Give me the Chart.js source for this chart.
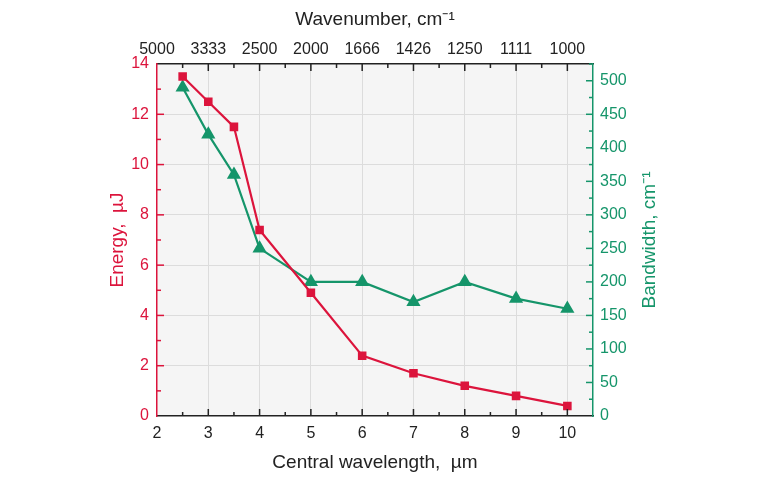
<!DOCTYPE html>
<html>
<head>
<meta charset="utf-8">
<script src="https://cdn.jsdelivr.net/npm/chart.js@4"></script>
<style>
  html, body { margin: 0; padding: 0; background: #fff; }
  #wrap { width: 768px; height: 480px; }
</style>
</head>
<body>
<div id="wrap"><canvas id="energyChart" width="768" height="480"></canvas></div>
<script>
// data
const wavelengths = [2.5, 3, 3.5, 4, 5, 6, 7, 8, 9, 10];
const energy = [13.5, 12.5, 11.5, 7.4, 4.9, 2.4, 1.7, 1.2, 0.8, 0.4];
const bandwidth = [490, 420, 360, 250, 200, 200, 170, 200, 175, 160];

const wavelengthTicks = [2, 3, 4, 5, 6, 7, 8, 9, 10];
const wavenumberLabels = ['5000', '3333', '2500', '2000', '1666', '1426', '1250', '1111', '1000'];
const energyTicks = [0, 2, 4, 6, 8, 10, 12, 14];
const bandwidthTicks = [0, 50, 100, 150, 200, 250, 300, 350, 400, 450, 500];

const RED = '#dc143c';
const GREEN = '#15956a';
const DARK = '#222';
const FONT = '"Liberation Sans", Arial, sans-serif';

// plot background, inward major/minor ticks, right axis title (reads bottom-up)
const frame = {
    id: 'frame',
    beforeDraw(chart) {
        const { ctx, chartArea: a } = chart;
        ctx.save();
        ctx.fillStyle = '#f5f5f5';
        ctx.fillRect(a.left, a.top, a.right - a.left, a.bottom - a.top);
        ctx.restore();
    },
    afterDraw(chart) {
        const { ctx, chartArea: a, scales } = chart;
        ctx.save();
        ctx.lineWidth = 1.5;
        // x ticks, bottom and top
        ctx.strokeStyle = DARK;
        for (let v = 2.5; v <= 10.01; v += 0.5) {
            const x = scales.x.getPixelForValue(v);
            const len = Number.isInteger(v) ? 7 : 4;
            ctx.beginPath();
            ctx.moveTo(x, a.bottom); ctx.lineTo(x, a.bottom - len);
            ctx.moveTo(x, a.top); ctx.lineTo(x, a.top + len);
            ctx.stroke();
        }
        // left energy ticks
        ctx.strokeStyle = RED;
        for (let v = 1; v < 14; v += 1) {
            const y = scales.y.getPixelForValue(v);
            const len = v % 2 === 0 ? 7 : 4;
            ctx.beginPath();
            ctx.moveTo(a.left, y); ctx.lineTo(a.left + len, y);
            ctx.stroke();
        }
        // right bandwidth ticks
        ctx.strokeStyle = GREEN;
        for (let v = 25; v <= 525; v += 25) {
            const y = scales.y2.getPixelForValue(v);
            const len = v % 50 === 0 ? 7 : 4;
            ctx.beginPath();
            ctx.moveTo(a.right, y); ctx.lineTo(a.right - len, y);
            ctx.stroke();
        }
        // right title
        ctx.translate(650, (a.top + a.bottom) / 2);
        ctx.rotate(-Math.PI / 2);
        ctx.fillStyle = GREEN;
        ctx.font = '19px ' + FONT;
        ctx.textAlign = 'center';
        ctx.textBaseline = 'middle';
        ctx.fillText('Bandwidth, cm⁻¹', 0, 0);
        ctx.restore();
    }
};

const toTicks = arr => arr.map(v => ({ value: v }));

new Chart(document.getElementById('energyChart'), {
    type: 'line',
    data: {
        datasets: [{
            label: 'Energy',
            data: wavelengths.map((w, i) => ({ x: w, y: energy[i] })),
            yAxisID: 'y',
            borderColor: RED,
            backgroundColor: RED,
            borderWidth: 2.2,
            pointStyle: 'rect',
            pointRadius: 4.5,
            pointHoverRadius: 4.5
        }, {
            label: 'Bandwidth',
            data: wavelengths.map((w, i) => ({ x: w, y: bandwidth[i] })),
            yAxisID: 'y2',
            borderColor: GREEN,
            backgroundColor: GREEN,
            borderWidth: 2.2,
            pointStyle: 'triangle',
            pointRadius: 6,
            pointHoverRadius: 6
        }]
    },
    options: {
        responsive: false,
        animation: false,
        layout: { padding: 0 },
        plugins: { legend: { display: false }, tooltip: { enabled: false } },
        scales: {
            x: {
                type: 'linear', position: 'bottom', min: 2, max: 10.5,
                afterBuildTicks: s => { s.ticks = toTicks(wavelengthTicks); },
                afterFit: s => { s.height = 64; },
                ticks: { color: DARK, font: { family: FONT, size: 16 }, padding: 8 },
                grid: { drawTicks: false, color: c => c.tick.value === 2 ? 'transparent' : '#dcdcdc' },
                border: { color: DARK, width: 1.5 },
                title: { display: true, text: 'Central wavelength,  µm', color: DARK,
                         font: { family: FONT, size: 19 }, padding: { bottom: 6 } }
            },
            x2: {
                type: 'linear', position: 'top', min: 2, max: 10.5,
                afterBuildTicks: s => { s.ticks = toTicks(wavelengthTicks); },
                afterFit: s => { s.height = 64; },
                ticks: { color: DARK, font: { family: FONT, size: 16 }, padding: 5,
                         callback: v => wavenumberLabels[wavelengthTicks.indexOf(v)] },
                grid: { display: false, drawTicks: false },
                border: { color: DARK, width: 1.5 },
                title: { display: true, text: 'Wavenumber, cm⁻¹', color: DARK,
                         font: { family: FONT, size: 19 }, padding: { top: 8 } }
            },
            y: {
                type: 'linear', position: 'left', min: 0, max: 14,
                afterBuildTicks: s => { s.ticks = toTicks(energyTicks); },
                afterFit: s => { s.width = 157; },
                ticks: { color: RED, font: { family: FONT, size: 16 }, padding: 8 },
                grid: { drawTicks: false, color: c => (c.tick.value === 0 || c.tick.value === 14) ? 'transparent' : '#dcdcdc' },
                border: { color: RED, width: 1.5 },
                title: { display: true, text: 'Energy,  µJ', color: RED,
                         font: { family: FONT, size: 19 }, padding: { top: 106 } }
            },
            y2: {
                type: 'linear', position: 'right', min: 0, max: 525,
                afterBuildTicks: s => { s.ticks = toTicks(bandwidthTicks); },
                afterFit: s => { s.width = 175; },
                ticks: { color: GREEN, font: { family: FONT, size: 16 }, padding: 7 },
                grid: { display: false, drawTicks: false },
                border: { color: GREEN, width: 1.5 },
                title: { display: false }
            }
        }
    },
    plugins: [frame]
});
</script>
</body>
</html>
